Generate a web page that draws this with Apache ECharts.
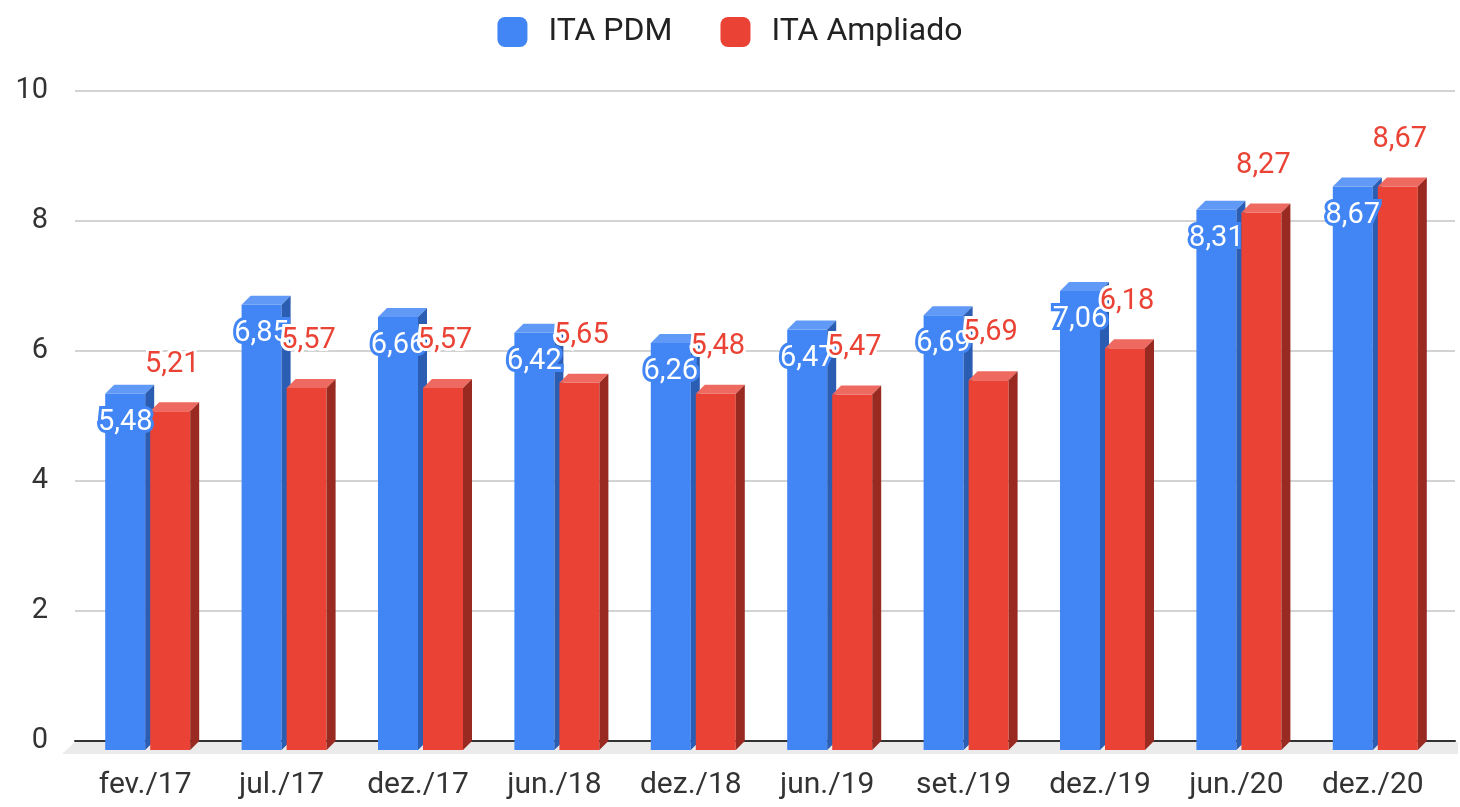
<!DOCTYPE html>
<html>
<head>
<meta charset="utf-8">
<script src="https://cdn.jsdelivr.net/npm/echarts@6/dist/echarts.min.js"></script>
<style>
  html, body { margin: 0; padding: 0; background: #fff; }
  #chart { width: 1460px; height: 807px; }
</style>
</head>
<body>
<div id="chart"></div>
<script>
const categories = ['fev./17', 'jul./17', 'dez./17', 'jun./18', 'dez./18', 'jun./19', 'set./19', 'dez./19', 'jun./20', 'dez./20']
const itaPdm = [5.48, 6.85, 6.66, 6.42, 6.26, 6.47, 6.69, 7.06, 8.31, 8.67]
const itaAmpliado = [5.21, 5.57, 5.57, 5.65, 5.48, 5.47, 5.69, 6.18, 8.27, 8.67]
const yTicks = [0, 2, 4, 6, 8, 10]

const BLUE = { front: '#4285F4', top: '#6199F6', side: '#2B5DB3' }
const RED = { front: '#EA4335', top: '#EE6960', side: '#992A22' }
const BAR_W = 40
const DEPTH = 9

function fmt (v) {
  return v.toFixed(2).replace('.', ',')
}

// 3d-ish bar: back face sits on the axis, front face shifted down-left by DEPTH
function bar3d (colors, offset) {
  return function (params, api) {
    const idx = api.value(0)
    const top = api.coord([idx, api.value(1)])
    const base = api.coord([idx, 0])
    const fx = top[0] + offset
    const ft = top[1] + DEPTH
    const fb = base[1] + DEPTH
    return {
      type: 'group',
      children: [
        {
          type: 'rect',
          shape: { x: fx, y: ft, width: BAR_W, height: fb - ft },
          style: { fill: colors.front }
        },
        {
          type: 'polygon',
          shape: { points: [[fx, ft], [fx + DEPTH, ft - DEPTH], [fx + BAR_W + DEPTH, ft - DEPTH], [fx + BAR_W, ft]] },
          style: { fill: colors.top }
        },
        {
          type: 'polygon',
          shape: { points: [[fx + BAR_W, ft], [fx + BAR_W + DEPTH, ft - DEPTH], [fx + BAR_W + DEPTH, fb - DEPTH], [fx + BAR_W, fb]] },
          style: { fill: colors.side }
        }
      ]
    }
  }
}

function barLabel (offset, dy, fill, stroke, dx) {
  return function (params, api) {
    const idx = api.value(0)
    const v = api.value(1)
    const top = api.coord([idx, v])
    return {
      type: 'text',
      x: top[0] + offset + BAR_W / 2 + dx,
      y: top[1] + DEPTH + dy,
      style: {
        text: fmt(v),
        fill: fill,
        stroke: stroke,
        lineWidth: 6,
        font: '29px Roboto',
        align: 'center',
        verticalAlign: 'middle'
      }
    }
  }
}

const toData = arr => arr.map((v, i) => [i, v])

const option = {
  animation: false,
  backgroundColor: '#fff',
  legend: {
    data: ['ITA PDM', 'ITA Ampliado'],
    top: 11,
    left: 'center',
    icon: 'roundRect',
    itemWidth: 30,
    itemHeight: 30,
    itemGap: 48,
    textStyle: { fontSize: 32, fontFamily: 'Roboto', color: '#222', padding: [0, 0, 0, 16] }
  },
  graphic: [
    {
      type: 'polygon',
      z: -1,
      shape: { points: [[62, 754], [75, 742], [1458, 742], [1458, 754]] },
      style: { fill: '#ebebeb' }
    }
  ],
  grid: [
    { left: 75, right: 5, top: 91, bottom: 66 },
    { left: 77, right: 19, top: 91, bottom: 66 }
  ],
  xAxis: [
    {
      gridIndex: 0,
      type: 'value',
      min: 0,
      max: 1,
      axisLine: { show: true, onZero: true, lineStyle: { color: '#333', width: 2 } },
      axisTick: { show: false },
      axisLabel: { show: false },
      splitLine: { show: false }
    },
    {
      gridIndex: 1,
      type: 'category',
      data: categories,
      axisLine: { show: false },
      axisTick: { show: false },
      axisLabel: { fontSize: 30, fontFamily: 'Roboto', color: '#333', margin: 29 }
    }
  ],
  yAxis: [
    {
      gridIndex: 0,
      type: 'value',
      min: yTicks[0],
      max: yTicks[yTicks.length - 1],
      interval: yTicks[1] - yTicks[0],
      axisLine: { show: false },
      axisTick: { show: false },
      axisLabel: { fontSize: 29, fontFamily: 'Roboto', color: '#333', margin: 27 },
      splitLine: { lineStyle: { color: '#d3d3d3', width: 2 } }
    },
    {
      gridIndex: 1,
      type: 'value',
      min: yTicks[0],
      max: yTicks[yTicks.length - 1],
      show: false
    }
  ],
  series: [
    {
      name: 'ITA PDM',
      type: 'custom',
      xAxisIndex: 1,
      yAxisIndex: 1,
      z: 2,
      itemStyle: { color: BLUE.front },
      renderItem: bar3d(BLUE, -40),
      data: toData(itaPdm)
    },
    {
      name: 'ITA Ampliado',
      type: 'custom',
      xAxisIndex: 1,
      yAxisIndex: 1,
      z: 3,
      itemStyle: { color: RED.front },
      renderItem: bar3d(RED, 5),
      data: toData(itaAmpliado)
    },
    {
      name: 'pdm-labels',
      type: 'custom',
      xAxisIndex: 1,
      yAxisIndex: 1,
      z: 4,
      renderItem: barLabel(-40, 29, '#fff', BLUE.front, 0),
      data: toData(itaPdm)
    },
    {
      name: 'ampliado-labels',
      type: 'custom',
      xAxisIndex: 1,
      yAxisIndex: 1,
      z: 5,
      renderItem: barLabel(5, -47, RED.front, '#fff', 2),
      data: toData(itaAmpliado)
    }
  ]
}

const chart = echarts.init(document.getElementById('chart'))
chart.setOption(option)
</script>
</body>
</html>
